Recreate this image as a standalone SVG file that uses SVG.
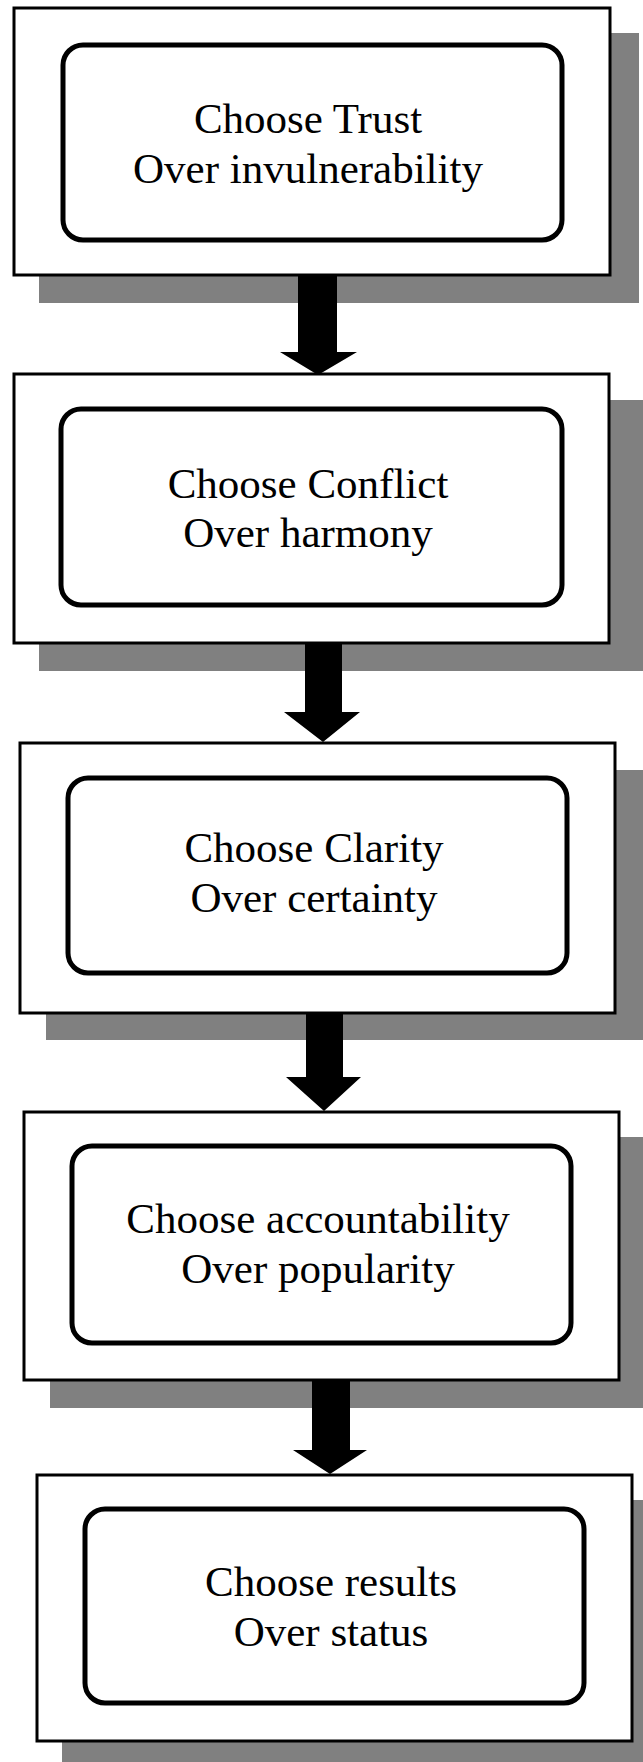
<svg xmlns="http://www.w3.org/2000/svg" width="643" height="1762" viewBox="0 0 643 1762">
<style>
.shadow{fill:#808080}
.outer{fill:#fff;stroke:#000;stroke-width:3}
.inner{fill:#fff;stroke:#000;stroke-width:5}
.lbl{font-family:"Liberation Serif","Times New Roman",serif;font-size:43px;fill:#000;text-anchor:middle}
.arr{fill:#000}
</style>
<rect width="643" height="1762" fill="#fff"/>
<g id="node1">
<rect class="shadow" x="39" y="33" width="600" height="270"/>
<rect class="outer" x="14" y="8" width="596" height="267"/>
<rect class="inner" x="63" y="45" width="499" height="195" rx="20"/>
<text class="lbl" x="308" y="133">Choose Trust</text>
<text class="lbl" x="308" y="183">Over invulnerability</text>
</g>
<g id="node2">
<rect class="shadow" x="39" y="400" width="604" height="271"/>
<rect class="outer" x="14" y="374" width="595" height="269"/>
<rect class="inner" x="61" y="409" width="501" height="196" rx="20"/>
<text class="lbl" x="308" y="498">Choose Conflict</text>
<text class="lbl" x="308" y="547">Over harmony</text>
</g>
<g id="node3">
<rect class="shadow" x="46" y="770" width="597" height="270"/>
<rect class="outer" x="20" y="743" width="595" height="270"/>
<rect class="inner" x="68" y="778" width="499" height="195" rx="20"/>
<text class="lbl" x="314" y="862">Choose Clarity</text>
<text class="lbl" x="314" y="912">Over certainty</text>
</g>
<g id="node4">
<rect class="shadow" x="50" y="1137" width="593" height="271"/>
<rect class="outer" x="24" y="1112" width="595" height="268"/>
<rect class="inner" x="72" y="1146" width="499" height="197" rx="20"/>
<text class="lbl" x="318" y="1233">Choose accountability</text>
<text class="lbl" x="318" y="1283">Over popularity</text>
</g>
<g id="node5">
<rect class="shadow" x="62" y="1500" width="581" height="262"/>
<rect class="outer" x="37" y="1475" width="595" height="266"/>
<rect class="inner" x="85" y="1509" width="499" height="194" rx="20"/>
<text class="lbl" x="331" y="1596">Choose results</text>
<text class="lbl" x="331" y="1646">Over status</text>
</g>
<g id="connectors">
<polygon class="arr" points="298,276 337,276 337,352 357,352 318,375 280,352 298,352"/>
<polygon class="arr" points="305,644 342,644 342,712 360,712 323,742 284,712 305,712"/>
<polygon class="arr" points="306,1014 343,1014 343,1077 361,1077 324,1111 286,1077 306,1077"/>
<polygon class="arr" points="312,1381 350,1381 350,1450 367,1450 330,1474 293,1450 312,1450"/>
</g>
</svg>
